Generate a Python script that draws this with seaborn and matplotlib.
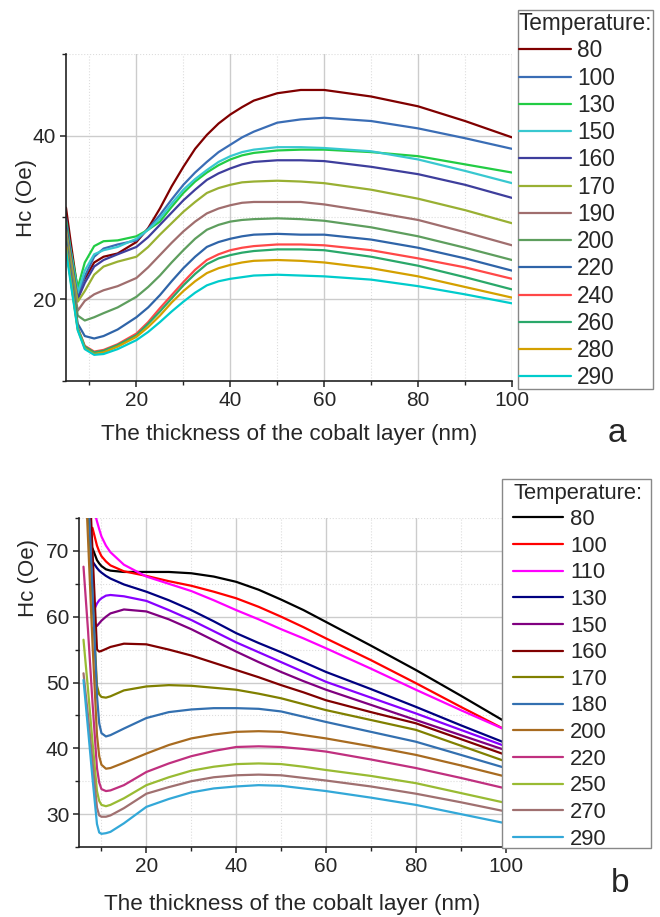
import numpy as np
import matplotlib
matplotlib.use("Agg")
import matplotlib.pyplot as plt
from matplotlib.ticker import FixedLocator
from matplotlib.patches import Rectangle
import seaborn as sns

# ---------------- data: panel a ----------------
xa = [5, 6, 7.5, 9, 11, 13, 16, 20, 22.5, 25, 27.5, 30, 32.5, 35, 37.5, 40, 42.5, 45, 50, 55, 60, 70, 80, 90, 100]
temps_a = ["80", "100", "130", "150", "160", "170", "190", "200", "220", "240", "260", "280", "290"]
hc_a_80 = [31.2, 27.0, 21.0, 22.5, 24.5, 25.2, 25.6, 27.0, 28.7, 31.1, 33.8, 36.2, 38.4, 40.1, 41.5, 42.6, 43.5, 44.3, 45.2, 45.6, 45.6, 44.8, 43.6, 41.8, 39.8]
hc_a_100 = [30.0, 26.0, 20.2, 22.8, 25.2, 26.2, 26.7, 27.2, 28.6, 30.3, 32.2, 34.0, 35.5, 36.8, 38.0, 38.9, 39.8, 40.5, 41.6, 42.0, 42.2, 41.8, 40.9, 39.7, 38.4]
hc_a_130 = [29.5, 26.0, 21.4, 24.5, 26.5, 27.1, 27.2, 27.7, 28.5, 29.5, 31.3, 33.0, 34.4, 35.5, 36.4, 37.1, 37.6, 37.9, 38.2, 38.3, 38.3, 38.0, 37.5, 36.5, 35.5]
hc_a_150 = [29.0, 25.8, 20.8, 23.5, 25.5, 26.0, 26.4, 27.4, 28.5, 29.9, 31.7, 33.4, 34.7, 35.8, 36.8, 37.5, 38.0, 38.3, 38.6, 38.6, 38.5, 38.1, 37.1, 35.7, 34.2]
hc_a_160 = [29.0, 25.5, 20.0, 22.0, 24.0, 24.8, 25.5, 26.4, 27.6, 29.1, 30.6, 32.1, 33.4, 34.6, 35.4, 36.0, 36.5, 36.8, 37.0, 37.0, 36.9, 36.2, 35.3, 34.0, 32.4]
hc_a_170 = [28.5, 25.0, 19.7, 21.0, 23.0, 24.0, 24.6, 25.2, 26.4, 27.9, 29.3, 30.7, 31.9, 33.0, 33.6, 34.0, 34.3, 34.4, 34.5, 34.4, 34.2, 33.4, 32.3, 30.9, 29.3]
hc_a_190 = [28.0, 24.0, 18.6, 19.8, 20.6, 21.1, 21.6, 22.6, 23.9, 25.4, 26.9, 28.3, 29.5, 30.5, 31.1, 31.5, 31.8, 31.9, 31.9, 31.9, 31.6, 30.7, 29.7, 28.2, 26.6]
hc_a_200 = [27.5, 23.5, 18.0, 17.4, 17.8, 18.3, 19.0, 20.3, 21.5, 22.9, 24.5, 26.0, 27.4, 28.5, 29.1, 29.5, 29.7, 29.8, 29.9, 29.8, 29.6, 28.8, 27.7, 26.3, 24.8]
hc_a_220 = [27.0, 23.0, 17.0, 15.5, 15.2, 15.5, 16.3, 17.8, 19.0, 20.5, 22.2, 23.8, 25.2, 26.4, 27.0, 27.4, 27.7, 27.9, 28.0, 27.9, 27.9, 27.3, 26.3, 25.0, 23.5]
hc_a_240 = [26.5, 22.5, 16.5, 14.3, 13.6, 13.8, 14.5, 15.8, 17.2, 18.9, 20.5, 22.1, 23.6, 24.8, 25.5, 26.0, 26.3, 26.5, 26.7, 26.7, 26.6, 26.0, 25.0, 23.9, 22.5]
hc_a_260 = [26.5, 22.5, 16.5, 14.2, 13.5, 13.7, 14.4, 15.6, 17.0, 18.5, 20.1, 21.7, 23.1, 24.3, 25.0, 25.4, 25.7, 25.9, 26.1, 26.1, 26.0, 25.2, 24.1, 22.7, 21.2]
hc_a_280 = [26.5, 22.3, 16.3, 14.0, 13.3, 13.5, 14.2, 15.4, 16.6, 18.0, 19.6, 21.0, 22.2, 23.2, 23.8, 24.2, 24.5, 24.7, 24.8, 24.7, 24.5, 23.8, 22.8, 21.5, 20.2]
hc_a_290 = [26.0, 22.0, 16.2, 13.9, 13.2, 13.3, 13.9, 15.0, 16.0, 17.2, 18.5, 19.7, 20.8, 21.7, 22.2, 22.5, 22.7, 22.9, 23.0, 22.9, 22.8, 22.4, 21.6, 20.6, 19.5]
series_a = [hc_a_80, hc_a_100, hc_a_130, hc_a_150, hc_a_160, hc_a_170, hc_a_190,
            hc_a_200, hc_a_220, hc_a_240, hc_a_260, hc_a_280, hc_a_290]
colors_a = ["#800000", "#3A6DB5", "#22CC44", "#38C8D0", "#3E3E9C", "#99B033", "#A06E6E",
            "#5E9E5E", "#2F64A8", "#FF4848", "#2AA86A", "#D4A000", "#00CCCC"]

# ---------------- data: panel b ----------------
nan = np.nan
xb = [6, 7, 8, 9, 9.5, 10, 11, 12, 15, 20, 25, 30, 35, 40, 45, 50, 55, 60, 70, 80, 90, 100]
temps_b = ["80", "100", "110", "130", "", "150", "160", "170", "180", "200", "220", "250", "270", "290"]
hc_b_80 = [nan, nan, 70.4, 68.6, 68.1, 67.7, 67.2, 67.0, 66.8, 66.8, 66.8, 66.6, 66.1, 65.3, 64.1, 62.6, 61.0, 59.2, 55.6, 51.9, 48.0, 44.0]
hc_b_100 = [nan, nan, 73.5, 70.8, 69.9, 69.2, 68.4, 67.8, 66.9, 66.2, 65.4, 64.7, 63.8, 62.8, 61.5, 60.0, 58.4, 56.7, 53.4, 49.9, 46.3, 42.8]
hc_b_110 = [nan, nan, 77.0, 74.5, 73.3, 72.2, 70.8, 69.8, 67.9, 66.1, 65.0, 63.9, 62.5, 61.0, 59.6, 58.1, 56.7, 55.2, 52.1, 48.9, 45.8, 42.8]
hc_b_130 = [nan, nan, 68.4, 67.4, 67.0, 66.7, 66.2, 65.8, 64.9, 63.8, 62.5, 61.0, 59.3, 57.5, 56.0, 54.6, 53.1, 51.6, 49.0, 46.3, 43.5, 40.8]
hc_b_unl = [nan, nan, 60.5, 62.0, 62.5, 62.8, 63.2, 63.3, 63.1, 62.4, 61.0, 59.5, 57.8, 56.1, 54.6, 53.1, 51.6, 50.1, 47.7, 45.3, 42.8, 40.3]
hc_b_150 = [nan, nan, 58.2, 58.6, 59.0, 59.4, 60.0, 60.5, 61.1, 60.8, 59.6, 58.1, 56.4, 54.7, 53.1, 51.6, 50.2, 48.9, 46.6, 44.3, 42.0, 39.7]
hc_b_160 = [100, 86, 70, 55.0, 54.7, 54.8, 55.1, 55.4, 55.9, 55.8, 55.0, 54.1, 53.0, 51.9, 50.8, 49.6, 48.5, 47.3, 45.5, 43.8, 41.4, 39.0]
hc_b_170 = [92, 78, 63, 49.5, 48.2, 47.8, 47.7, 47.9, 48.8, 49.4, 49.6, 49.5, 49.2, 48.9, 48.3, 47.6, 46.7, 45.8, 44.3, 42.8, 40.4, 38.0]
hc_b_180 = [95, 80, 64, 48, 43.8, 42.3, 41.8, 42.0, 43.0, 44.6, 45.5, 45.9, 46.1, 46.1, 46.0, 45.6, 44.8, 44.0, 42.5, 41.0, 39.0, 37.0]
hc_b_200 = [88, 72, 56, 42, 38.8, 37.5, 36.9, 37.0, 37.8, 39.2, 40.5, 41.5, 42.1, 42.5, 42.6, 42.5, 42.0, 41.5, 40.3, 39.0, 37.4, 35.7]
hc_b_220 = [67.6, 58, 47, 37, 34.8, 33.8, 33.5, 33.6, 34.4, 36.4, 37.7, 38.8, 39.6, 40.2, 40.3, 40.2, 39.9, 39.5, 38.3, 37.0, 35.5, 33.9]
hc_b_250 = [56.5, 49, 41, 33.5, 32.0, 31.4, 31.2, 31.4, 32.4, 34.4, 35.6, 36.6, 37.2, 37.6, 37.7, 37.6, 37.2, 36.7, 35.8, 34.7, 33.2, 31.7]
hc_b_270 = [51.4, 45, 38, 31, 29.8, 29.6, 29.6, 29.8, 30.9, 33.1, 34.1, 35.0, 35.6, 35.9, 36.0, 35.9, 35.5, 35.1, 34.2, 33.1, 31.8, 30.4]
hc_b_290 = [50.4, 43, 35.5, 28.5, 27.2, 27.0, 27.1, 27.3, 28.6, 31.1, 32.3, 33.3, 33.9, 34.2, 34.4, 34.3, 33.9, 33.5, 32.5, 31.4, 30.0, 28.6]
series_b = [hc_b_80, hc_b_100, hc_b_110, hc_b_130, hc_b_unl, hc_b_150, hc_b_160, hc_b_170,
            hc_b_180, hc_b_200, hc_b_220, hc_b_250, hc_b_270, hc_b_290]
colors_b = ["#000000", "#FF0000", "#FF00FF", "#000080", "#8800FF", "#800080", "#800000",
            "#808000", "#3370B0", "#A86B20", "#C0307F", "#99BB33", "#A07070", "#33A8D8"]

xlabel = "The thickness of the cobalt layer (nm)"
ylabel = "Hc (Oe)"

# ---------------- style ----------------
sns.set_theme(style="white")
plt.rcParams["font.family"] = ["Liberation Sans", "DejaVu Sans"]

fig = plt.figure(figsize=(6.6, 9.17), dpi=100)
W, H = 660.0, 917.0
ax_a = fig.add_axes([66 / W, 1 - 381 / H, (512 - 66) / W, (381 - 54) / H])
ax_b = fig.add_axes([79 / W, 1 - 847 / H, (505.7 - 79) / W, (847 - 518) / H])


def draw(ax, x, series, colors, labels):
    for y, c, lab in zip(series, colors, labels):
        xv = np.asarray(x, float)
        yv = np.asarray(y, float)
        m = ~np.isnan(yv)
        sns.lineplot(x=xv[m], y=yv[m], color=c, lw=1.6, ax=ax, estimator=None,
                     sort=False, label=lab if lab else "_nolegend_", legend=False)


def style(ax, ylim, ymaj, ymin_locs, xlabel_pad):
    ax.set_xlim(5, 100)
    ax.set_ylim(*ylim)
    ax.xaxis.set_major_locator(FixedLocator([20, 40, 60, 80, 100]))
    ax.xaxis.set_minor_locator(FixedLocator([10, 30, 50, 70, 90]))
    ax.yaxis.set_major_locator(FixedLocator(ymaj))
    ax.yaxis.set_minor_locator(FixedLocator(ymin_locs))
    ax.grid(which="major", color="#cccccc", lw=1.0, ls="-")
    ax.grid(which="minor", color="#dddddd", lw=0.8, ls=":")
    ax.set_axisbelow(True)
    for s in ["top", "right"]:
        ax.spines[s].set_visible(False)
    for s in ["left", "bottom"]:
        ax.spines[s].set_color("#222222")
        ax.spines[s].set_linewidth(1.2)
    ax.tick_params(which="major", direction="out", length=4, width=1.1, color="#222222",
                   labelsize=15, left=True, bottom=True, pad=3)
    ax.tick_params(which="minor", direction="out", length=3, width=1.0, color="#222222",
                   left=True, bottom=True)
    ax.set_xlabel(xlabel, fontsize=16.2, labelpad=xlabel_pad)


draw(ax_a, xa, series_a, colors_a, temps_a)
style(ax_a, (10, 50), [20, 40], [10, 30, 50], 10)
for t in ax_a.yaxis.get_minor_ticks():
    if t.get_loc() in (10, 50):
        t.gridline.set_visible(False)
ax_a.set_ylabel(ylabel, fontsize=16)
ax_a.yaxis.set_label_coords(-0.065, 0.56)

draw(ax_b, xb, series_b, colors_b, temps_b)
style(ax_b, (25, 75), [30, 40, 50, 60, 70], [25, 35, 45, 55, 65, 75], 13)
for t in ax_b.yaxis.get_minor_ticks():
    if t.get_loc() in (25, 75):
        t.gridline.set_visible(False)
ax_b.set_ylabel(ylabel, fontsize=16)
ax_b.yaxis.set_label_coords(-0.094, 0.818)


def add_legend(ax, frame_px, anchor_px, fs, spacing):
    x0, y0, x1, y1 = frame_px
    fig.patches.append(Rectangle((x0 / W, 1 - y1 / H), (x1 - x0) / W, (y1 - y0) / H,
                                 transform=fig.transFigure, facecolor="white",
                                 edgecolor="#888888", lw=1.0, zorder=3))
    handles, labels = ax.get_legend_handles_labels()
    leg = fig.legend(handles, labels, loc="upper left",
                     bbox_to_anchor=(anchor_px[0] / W, 1 - anchor_px[1] / H),
                     bbox_transform=fig.transFigure, title="Temperature:",
                     fontsize=fs, title_fontsize=fs, frameon=False,
                     borderpad=0, borderaxespad=0,
                     handlelength=2.3, handletextpad=0.3, labelspacing=spacing,
                     alignment="left")
    leg.set_zorder(4)
    return leg


add_legend(ax_a, (518, 10, 653, 389), (518.5, 12), 16.3, 0.188)
add_legend(ax_b, (501.7, 479, 651, 847.7), (513, 482.5), 15.8, 0.256)

fig.text(617 / W, 1 - 433 / H, "a", fontsize=24, ha="center", va="center")
fig.text(620 / W, 1 - 883 / H, "b", fontsize=24, ha="center", va="center")

fig.savefig("out.png", dpi=100)
